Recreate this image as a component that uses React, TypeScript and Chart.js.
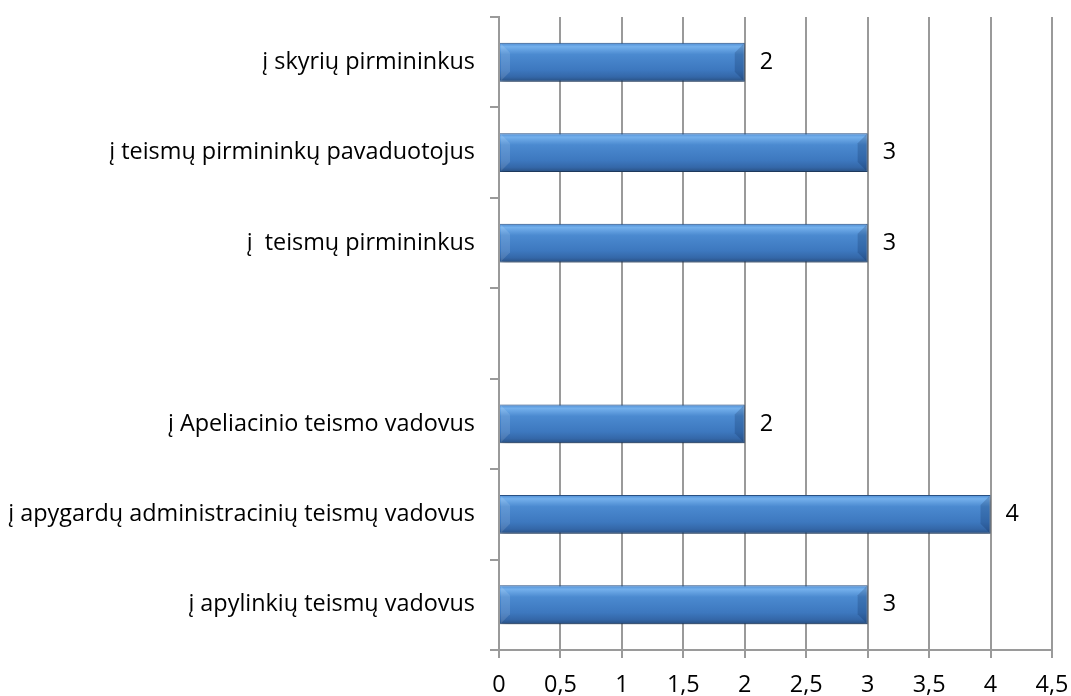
import React, { useEffect, useRef } from "react";
import { Chart, registerables } from "chart.js";

Chart.register(...registerables);

const categories = [
  "į skyrių pirmininkus",
  "į teismų pirmininkų pavaduotojus",
  "į  teismų pirmininkus",
  "",
  "į Apeliacinio teismo vadovus",
  "į apygardų administracinių teismų vadovus",
  "į apylinkių teismų vadovus",
];
const values: (number | null)[] = [2, 3, 3, null, 2, 4, 3];
const xMin = 0;
const xMax = 4.5;
const xStep = 0.5;

const FONT = "'Open Sans', Lato, sans-serif";
const FSIZE = 23.4;

export default function App() {
  const ref = useRef<HTMLCanvasElement | null>(null);
  useEffect(() => {
    document.body.style.margin = "0";
    const canvas = ref.current!;
    const shadowPlugin = {
      id: "barShadow",
      beforeDatasetDraw(chart: any) {
        const c = chart.ctx;
        const meta = chart.getDatasetMeta(0);
        meta.data.forEach((el: any) => {
          if (!isFinite(el.y) || !isFinite(el.height)) return;
          const top = el.y - el.height / 2;
          const bot = el.y + el.height / 2;
          const g = c.createLinearGradient(0, top, 0, bot);
          g.addColorStop(0, "#4d8cd3");
          g.addColorStop(0.1, "#74b0ec");
          g.addColorStop(0.3, "#4b8ad0");
          g.addColorStop(0.7, "#3d78bf");
          g.addColorStop(0.88, "#3467a8");
          g.addColorStop(1, "#284f80");
          el.options = { ...el.options, backgroundColor: g };
        });
        c.save();
        c.shadowColor = "rgba(0,0,0,0.35)";
        c.shadowBlur = 6;
        c.shadowOffsetX = 1;
        c.shadowOffsetY = 4;
      },
      afterDatasetDraw(chart: any) {
        const c = chart.ctx;
        c.restore();
        const meta = chart.getDatasetMeta(0);
        const b = 9;
        meta.data.forEach((el: any, i: number) => {
          if (values[i] == null) return;
          const x0 = el.base + 1;
          const x1 = el.x - 1;
          const top = el.y - el.height / 2 + 1;
          const bot = el.y + el.height / 2 - 1;
          c.save();
          c.fillStyle = "rgba(255,255,255,0.12)";
          c.beginPath();
          c.moveTo(x0, top);
          c.lineTo(x0 + b, top + b);
          c.lineTo(x0 + b, bot - b);
          c.lineTo(x0, bot);
          c.closePath();
          c.fill();
          c.fillStyle = "rgba(0,20,60,0.18)";
          c.beginPath();
          c.moveTo(x1, top);
          c.lineTo(x1 - b, top + b);
          c.lineTo(x1 - b, bot - b);
          c.lineTo(x1, bot);
          c.closePath();
          c.fill();
          c.restore();
        });
      },
    };
    const labelPlugin = {
      id: "valueLabels",
      afterDatasetsDraw(chart: any) {
        const c = chart.ctx;
        const meta = chart.getDatasetMeta(0);
        c.save();
        c.font = `${FSIZE}px ${FONT}`;
        c.fillStyle = "#000";
        c.textAlign = "left";
        c.textBaseline = "middle";
        meta.data.forEach((el: any, i: number) => {
          const v = values[i];
          if (v == null) return;
          c.fillText(String(v), el.x + 15, el.y);
        });
        c.restore();
      },
    };
    const chart = new Chart(canvas, {
      type: "bar",
      data: {
        labels: categories,
        datasets: [
          {
            data: values,
            backgroundColor: "#4a7ebb",
            borderColor: "#2a5285",
            borderWidth: 1,
            categoryPercentage: 1,
            barPercentage: 0.43,
          },
        ],
      },
      options: {
        indexAxis: "y",
        animation: false,
        responsive: false,
        maintainAspectRatio: false,
        layout: { padding: { top: 17, left: 0, right: 19, bottom: 0 } },
        plugins: { legend: { display: false }, tooltip: { enabled: false } },
        scales: {
          x: {
            min: xMin,
            max: xMax,
            ticks: {
              stepSize: xStep,
              color: "#000",
              font: { family: FONT, size: FSIZE },
              padding: 13,
              maxRotation: 0,
              callback: (v: any) => String(v).replace(".", ","),
            },
            grid: { color: "#9a9a9a", lineWidth: 2, tickLength: 8, drawTicks: true },
            border: { color: "#9a9a9a", width: 2 },
            afterFit: (s: any) => {
              s.height = 46;
              s.paddingLeft = 0;
              s.paddingRight = 0;
            },
          },
          y: {
            ticks: {
              color: "#000",
              font: { family: FONT, size: FSIZE },
              padding: 15,
            },
            grid: { offset: true, drawOnChartArea: false, tickLength: 9, color: "#9a9a9a", lineWidth: 2 },
            border: { color: "#9a9a9a", width: 2 },
            afterFit: (s: any) => {
              s.width = 499;
              s.paddingTop = 0;
              s.paddingBottom = 0;
            },
          },
        },
      },
      plugins: [shadowPlugin, labelPlugin],
    } as any);
    return () => chart.destroy();
  }, []);
  return <canvas ref={ref} width={1071} height={696} style={{ display: "block" }} />;
}
